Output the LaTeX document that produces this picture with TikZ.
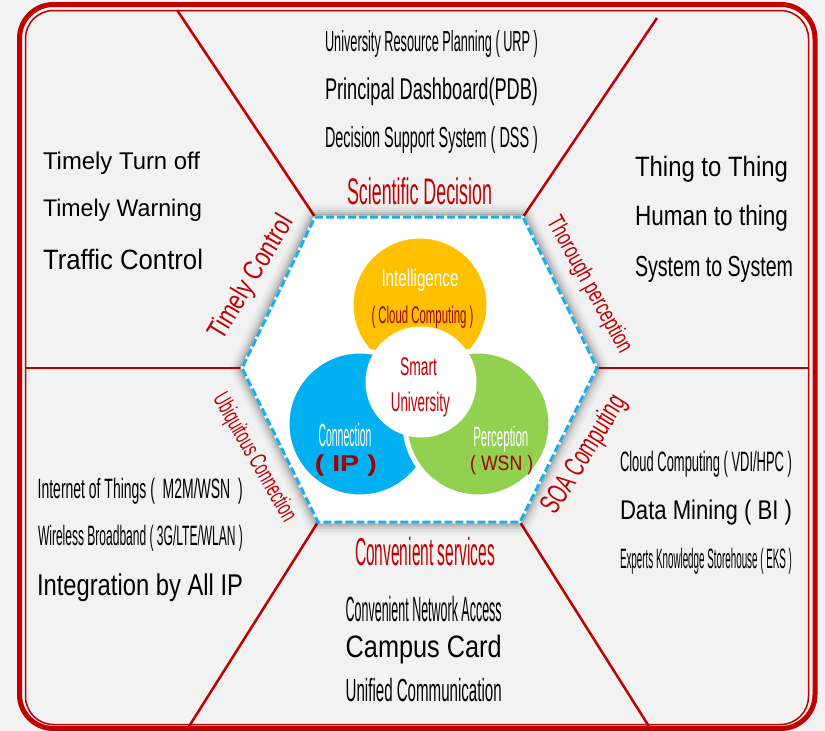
\documentclass[tikz,border=0pt]{standalone}
\usepackage{fontspec}
\setmainfont{Liberation Sans}
\usepackage{graphicx}
\definecolor{fr}{HTML}{C00000}
\definecolor{dred}{HTML}{A00000}
\definecolor{bg}{HTML}{F2F2F2}
\definecolor{hexblue}{HTML}{1AAEEB}
\definecolor{cyel}{HTML}{FFC000}
\definecolor{cblue}{HTML}{00B0F0}
\definecolor{cgreen}{HTML}{92D050}
\newcommand{\tx}[3]{\resizebox{#1pt}{\height}{\fontsize{#2pt}{#2pt}\selectfont #3}}
\begin{document}
\begin{tikzpicture}[x=1pt,y=-1pt,
  txt/.style={inner sep=0pt, outer sep=0pt, text=black},
  redlbl/.style={inner sep=0pt, outer sep=0pt, text=fr},
  divider/.style={fr, line width=2.5pt},
  disc/.style={circle, draw=white, line width=5pt, inner sep=0pt}]
\fill[bg] (0,0) rectangle (825,731);
\useasboundingbox (0,0) rectangle (825,731);
% frame
\draw[fr, line width=5pt, rounded corners=34pt] (19.5,4.5) rectangle (815,728.5);
\draw[fr, line width=1.5pt, rounded corners=28pt] (25.5,10.5) rectangle (808.5,724.5);
% hexagon vertices
\coordinate (h1) at (315,217);
\coordinate (h2) at (523,217);
\coordinate (h3) at (597,368);
\coordinate (h4) at (520,522);
\coordinate (h5) at (318,522);
\coordinate (h6) at (242,368);
% frame ends of dividers
\coordinate (f1) at (177,10);
\coordinate (f2) at (657,18);
\coordinate (f3) at (808,368);
\coordinate (f4) at (650,728);
\coordinate (f5) at (188,728);
\coordinate (f6) at (25,368);
\draw[divider] (h1) -- (f1);
\draw[divider] (h2) -- (f2);
\draw[divider] (h3) -- (f3);
\draw[divider] (h4) -- (f4);
\draw[divider] (h5) -- (f5);
\draw[divider] (h6) -- (f6);
% shadow of hexagon
\foreach \w/\o in {24/0.03,19/0.04,14/0.06,10/0.08,6/0.12}
  \draw[line width=\w pt, black, opacity=\o, line join=round] (h1)--(h2)--(h3)--(h4)--(h5)--(h6)--cycle;
\draw[fill=white, draw=white, line width=3pt, line join=round] (h1)--(h2)--(h3)--(h4)--(h5)--(h6)--cycle;
\draw[hexblue, line width=3pt, dash pattern=on 8pt off 3pt] (h1)--(h2)--(h3)--(h4)--(h5)--(h6)--cycle;
% circles
\node[disc, fill=cyel, minimum size=138pt] (yel) at (420,305) {};
\node[disc, fill=cblue, minimum size=146pt] (blu) at (360,424) {};
\node[disc, fill=cgreen, minimum size=146pt] (grn) at (478,424) {};
\node[disc, fill=white, minimum size=106pt] (wht) at (421,382) {};
% circle texts
\node[txt, text=white, anchor=base] (intel) at (420,286.7) {\tx{77}{24}{Intelligence}};
\node[txt, text=dred, anchor=base] (cloudc) at (422.5,323.3) {\tx{102}{24}{( Cloud Computing )}};
\node[txt, text=fr, anchor=base] (smart) at (418.5,375) {\tx{37}{25.5}{Smart}};
\node[txt, text=fr, anchor=base] (univ) at (420.3,411.7) {\tx{59}{27}{University}};
\node[txt, text=white, anchor=base] (conn) at (345,446.7) {\tx{53}{32}{Connection}};
\node[txt, text=dred, anchor=base] (ip) at (345.8,471.7) {\tx{62}{23}{\bfseries ( IP )}};
\node[txt, text=white, anchor=base] (perc) at (500.8,446.7) {\tx{55}{28}{Perception}};
\node[txt, text=dred, anchor=base] (wsn) at (501.7,470) {\tx{63}{21}{( WSN )}};
% top section
\node[txt, anchor=base west] (urp) at (325,51.7) {\tx{213}{29}{University Resource Planning ( URP )}};
\node[txt, anchor=base west] (pdb) at (325,99.3) {\tx{213}{30}{Principal Dashboard(PDB)}};
\node[txt, anchor=base west] (dss) at (325,147.7) {\tx{213}{29}{Decision Support System ( DSS )}};
\node[redlbl, anchor=base west] (sci) at (347,204) {\tx{145}{37}{Scientific Decision}};
% top-left section
\node[txt, anchor=base west] (tto) at (43,169) {\tx{157}{24.2}{Timely Turn off}};
\node[txt, anchor=base west] (tw) at (43,216) {\tx{159}{24}{Timely Warning}};
\node[txt, anchor=base west] (tc) at (43,269) {\tx{160}{28}{Traffic Control}};
\node[redlbl, rotate=59] (timely) at (252,278) {\tx{140}{28}{Timely Control}};
% top-right section
\node[txt, anchor=base west] (t2t) at (635,176.7) {\tx{153}{28}{Thing to Thing}};
\node[txt, anchor=base west] (h2t) at (635,225) {\tx{153}{28}{Human to thing}};
\node[txt, anchor=base west] (s2s) at (635,276.7) {\tx{158}{29}{System to System}};
\node[redlbl, rotate=-61] (thor) at (589,285) {\tx{152}{24}{Thorough perception}};
% bottom-left section
\node[txt, anchor=base west] (iot) at (37.7,498.3) {\tx{205}{28}{Internet of Things (\ \ M2M/WSN\ \ )}};
\node[txt, anchor=base west] (wb) at (38,545) {\tx{205}{28}{Wireless Broadband ( 3G/LTE/WLAN )}};
\node[txt, anchor=base west] (allip) at (37,595) {\tx{206}{30}{Integration by All IP}};
\node[redlbl, rotate=-60] (ubiq) at (254,458) {\tx{144}{24}{Ubiquitous Connection}};
% bottom-right section
\node[txt, anchor=base west] (vdi) at (620,471.7) {\tx{172}{28}{Cloud Computing ( VDI/HPC )}};
\node[txt, anchor=base west] (dm) at (620,519.3) {\tx{172}{27}{Data Mining ( BI )}};
\node[txt, anchor=base west] (eks) at (620,568.3) {\tx{172}{28}{Experts Knowledge Storehouse ( EKS )}};
\node[redlbl, rotate=58] (soa) at (585,455) {\tx{134}{29}{SOA Computing}};
% bottom section
\node[redlbl, anchor=base west] (conv) at (355,565) {\tx{140}{39}{Convenient services}};
\node[txt, anchor=base west] (cna) at (345.7,621.7) {\tx{156}{35}{Convenient Network Access}};
\node[txt, anchor=base west] (cc) at (345.7,657.3) {\tx{156}{31}{Campus Card}};
\node[txt, anchor=base west] (uc) at (345.7,701.7) {\tx{156}{32}{Unified Communication}};
\end{tikzpicture}
\end{document}
